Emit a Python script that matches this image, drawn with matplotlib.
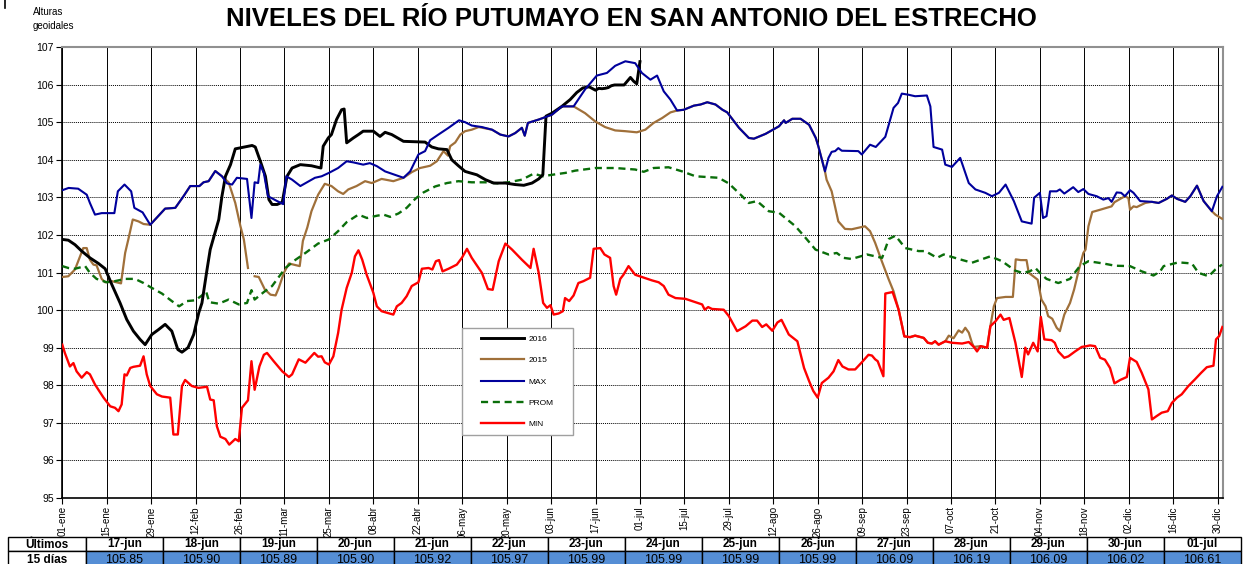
import numpy as np
import matplotlib
matplotlib.use("Agg")
import matplotlib.pyplot as plt
from matplotlib.patches import Rectangle
from matplotlib.lines import Line2D

plt.rcParams['font.family'] = ['Liberation Sans', 'DejaVu Sans']

# ---------------- datos (dia del anio base 0, nivel en m) ----------------
etiquetas_x = ['01-ene', '15-ene', '29-ene', '12-feb', '26-feb', '11-mar', '25-mar',
               '08-abr', '22-abr', '06-may', '20-may', '03-jun', '17-jun', '01-jul',
               '15-jul', '29-jul', '12-ago', '26-ago', '09-sep', '23-sep', '07-oct',
               '21-oct', '04-nov', '18-nov', '02-dic', '16-dic', '30-dic']

maximo = [(0, 103.19), (2, 103.25), (5, 103.23), (7.7, 103.07), (8.7, 102.85), (10.3, 102.54),
          (12.4, 102.58), (16.4, 102.58), (17.5, 103.16), (19.6, 103.34), (21.7, 103.16),
          (22.7, 102.72), (25.3, 102.6), (27.7, 102.27), (32.4, 102.7), (35.6, 102.72),
          (38.2, 103.03), (40.3, 103.3), (43.2, 103.3), (44.5, 103.4), (46.1, 103.43),
          (48.2, 103.7), (50.3, 103.56), (51.9, 103.37), (53.5, 103.34), (55, 103.52),
          (58.2, 103.49), (59.6, 102.45), (60.6, 103.4), (61.7, 103.38), (62.4, 103.87),
          (63.5, 103.65), (64.8, 103.03), (67.7, 102.9), (69.6, 102.82), (70.6, 103.56),
          (72.4, 103.47), (75, 103.3), (79.6, 103.52), (81.7, 103.56), (84, 103.65),
          (86.9, 103.78), (89.6, 103.96), (91.7, 103.93), (94.8, 103.87), (96.9, 103.91),
          (99.1, 103.83), (101.7, 103.69), (104.8, 103.6), (107.5, 103.52), (109.6, 103.69),
          (112.2, 104.14), (114.3, 104.23), (115.9, 104.52), (118.5, 104.67), (121.7, 104.85),
          (125, 105.05), (126.9, 105.0), (129, 104.91), (132.2, 104.87), (135.4, 104.8),
          (138, 104.67), (140.6, 104.62), (142.7, 104.71), (144.8, 104.85), (145.7, 104.64),
          (146.7, 104.98), (150.1, 105.07), (154.3, 105.2), (157.4, 105.42), (161.1, 105.42),
          (164.7, 105.87), (168.4, 106.24), (171.6, 106.31), (174.2, 106.5), (177.4, 106.62),
          (180.5, 106.57), (182.6, 106.31), (185.3, 106.13), (187.4, 106.24), (189.5, 105.82),
          (191.6, 105.6), (193.7, 105.31), (195.8, 105.33), (199, 105.44), (201.1, 105.47),
          (203.2, 105.53), (205.8, 105.47), (208, 105.33), (209.5, 105.26), (213.2, 104.85),
          (216.3, 104.58), (217.9, 104.56), (221.6, 104.69), (225.8, 104.89), (227.4, 105.05),
          (227.9, 104.98), (230, 105.09), (232.6, 105.09), (235.3, 104.93), (237.4, 104.58),
          (238.2, 104.36), (240.3, 103.69), (241.4, 104.05), (242.4, 104.21), (243.5, 104.23),
          (244.5, 104.31), (245.6, 104.24), (250.8, 104.23), (251.9, 104.14), (254.5, 104.4),
          (256.3, 104.34), (259.3, 104.61), (261.9, 105.38), (263.3, 105.51), (264.5, 105.76),
          (266.6, 105.73), (268.7, 105.69), (272.4, 105.71), (273.5, 105.42), (274.5, 104.34),
          (277.2, 104.27), (278.2, 103.87), (280.3, 103.81), (282.9, 104.05), (285.6, 103.38),
          (287.7, 103.21), (290.8, 103.12), (292.9, 103.03), (295.1, 103.12), (297.2, 103.34),
          (299.8, 102.9), (302.3, 102.36), (305.4, 102.3), (306.2, 102.99), (308, 103.12),
          (309, 102.45), (310.1, 102.5), (311.2, 103.16), (313.3, 103.16), (314.3, 103.21),
          (315.7, 103.1), (318.5, 103.27), (320.1, 103.14), (321.7, 103.22), (323.3, 103.09),
          (325.9, 103.03), (328, 102.94), (329.6, 102.98), (330.6, 102.88), (332.2, 103.13),
          (333.6, 103.12), (334.8, 103.03), (336.4, 103.19), (337.5, 103.12), (339.6, 102.9),
          (343.3, 102.88), (345.4, 102.85), (348, 102.96), (349.6, 103.05), (351.2, 102.96),
          (353.8, 102.88), (355.4, 103.03), (357.5, 103.31), (359.6, 102.9), (362.2, 102.63),
          (363.8, 103.03), (365.5, 103.28)]

promedio = [(0, 101.17), (1.9, 101.12), (4, 101.1), (7.2, 101.17), (8.7, 100.99), (10.8, 100.83),
            (14, 100.74), (16.6, 100.77), (19.8, 100.83), (22.9, 100.83), (25.6, 100.72),
            (28.2, 100.59), (31.4, 100.44), (34.5, 100.24), (36.8, 100.1), (39.3, 100.24),
            (41.9, 100.26), (44, 100.39), (45.3, 100.5), (46.3, 100.21), (49.3, 100.17),
            (52.4, 100.28), (55.6, 100.15), (58.2, 100.19), (59.6, 100.53), (60.6, 100.28),
            (63.5, 100.48), (66.1, 100.64), (70.3, 101.12), (73.5, 101.34), (76.6, 101.52),
            (80.6, 101.77), (84, 101.88), (86.9, 102.1), (89.6, 102.34), (93.3, 102.54),
            (96, 102.45), (99.1, 102.51), (101.2, 102.54), (103.3, 102.48), (105.9, 102.57),
            (108.5, 102.72), (111.2, 102.96), (113.8, 103.13), (117.5, 103.29), (121.2, 103.38),
            (124.8, 103.43), (129, 103.4), (133.3, 103.4), (137.5, 103.37), (140.6, 103.4),
            (144.8, 103.47), (148.5, 103.63), (151.4, 103.56), (154.3, 103.6), (158.5, 103.65),
            (161.6, 103.71), (168, 103.78), (174.2, 103.78), (180.5, 103.74), (183.2, 103.68),
            (186.3, 103.78), (191, 103.8), (195.3, 103.69), (199.5, 103.56), (206.8, 103.52),
            (210, 103.37), (214.2, 103.03), (216.3, 102.85), (218.9, 102.9), (222.6, 102.63),
            (225.8, 102.59), (231, 102.23), (234.2, 101.92), (237.3, 101.61), (241.4, 101.48),
            (244, 101.52), (246.1, 101.39), (248.7, 101.36), (253.5, 101.48), (258.3, 101.39),
            (260.4, 101.89), (262.5, 101.98), (265.6, 101.65), (269.8, 101.57), (271.9, 101.57),
            (275.6, 101.39), (277.7, 101.48), (282.4, 101.36), (286.6, 101.26), (292.4, 101.43),
            (296.1, 101.3), (300.2, 101.05), (302.5, 100.99), (304.8, 101.03), (306.6, 101.12),
            (308, 100.99), (310.1, 100.83), (313.8, 100.72), (317.5, 100.83), (320.6, 101.17),
            (323.3, 101.3), (328, 101.24), (331.7, 101.18), (336.4, 101.17), (340.1, 101.03),
            (343.8, 100.92), (345.9, 101.03), (347, 101.17), (351.7, 101.27), (355.9, 101.24),
            (358, 100.99), (361.2, 100.9), (363.3, 101.08), (365.4, 101.21)]

minimo = [(0, 99.08), (0.8, 98.86), (2.4, 98.5), (3.5, 98.59), (4.5, 98.37), (6.1, 98.2),
          (7.7, 98.35), (8.7, 98.29), (10.3, 98.02), (13, 97.67), (15.1, 97.44), (16.6, 97.4),
          (17.7, 97.31), (18.7, 97.49), (19.6, 98.29), (20.3, 98.26), (21.4, 98.46),
          (22.4, 98.49), (24.5, 98.52), (25.6, 98.77), (26.6, 98.29), (27.7, 97.98),
          (29.8, 97.76), (31.4, 97.7), (34, 97.67), (35, 96.69), (36.4, 96.69), (37.7, 97.98),
          (38.7, 98.14), (40.8, 97.98), (42.9, 97.93), (45.6, 97.96), (46.6, 97.62),
          (47.7, 97.6), (48.7, 96.91), (49.8, 96.63), (51.4, 96.57), (52.6, 96.42),
          (54.5, 96.57), (55.6, 96.51), (56.6, 97.4), (58.5, 97.6), (59.6, 98.64),
          (60.6, 97.88), (62.1, 98.5), (63.5, 98.81), (64.5, 98.86), (66.6, 98.64),
          (69.3, 98.37), (71.4, 98.22), (72.4, 98.29), (74.5, 98.69), (76.6, 98.6),
          (79.4, 98.86), (80.6, 98.76), (81.7, 98.77), (82.7, 98.61), (84, 98.55),
          (85.4, 98.77), (86.9, 99.39), (88, 100.01), (89.6, 100.59), (91.2, 100.99),
          (92.2, 101.43), (93.3, 101.59), (94.5, 101.34), (95.9, 100.94), (98, 100.46),
          (99.1, 100.1), (100.6, 99.97), (104.3, 99.88), (105.4, 100.1), (106.9, 100.19),
          (108.5, 100.37), (110.1, 100.64), (112.2, 100.74), (113.3, 101.1), (115.4, 101.12),
          (116.6, 101.08), (117.7, 101.3), (118.7, 101.33), (119.8, 101.03), (121.7, 101.1),
          (124.3, 101.21), (125.9, 101.39), (127.5, 101.63), (129, 101.39), (132.2, 100.99),
          (134.1, 100.56), (135.6, 100.54), (137.5, 101.3), (139.6, 101.77), (141.7, 101.61),
          (144.8, 101.34), (147.5, 101.12), (148.5, 101.63), (150.1, 100.99), (151.5, 100.19),
          (152.7, 100.06), (153.8, 100.13), (154.8, 99.88), (156.4, 99.91), (157.7, 99.97),
          (158.4, 100.32), (159.7, 100.24), (161.1, 100.39), (162.6, 100.72), (164.2, 100.77),
          (166.3, 100.86), (167.4, 101.63), (169.5, 101.65), (170.8, 101.48), (172.6, 101.39),
          (173.7, 100.64), (174.5, 100.41), (175.8, 100.83), (176.8, 100.94), (178.4, 101.17),
          (180.5, 100.94), (182.6, 100.88), (185.8, 100.79), (187.9, 100.74), (189.5, 100.64),
          (191, 100.41), (193.2, 100.32), (196.3, 100.3), (198.4, 100.24), (201.6, 100.15),
          (202.4, 100.01), (203.5, 100.08), (204.7, 100.03), (208.4, 100.01), (210, 99.84),
          (212.6, 99.44), (215.3, 99.57), (217.4, 99.72), (218.9, 99.72), (220.5, 99.55),
          (221.8, 99.62), (223.7, 99.45), (225.3, 99.67), (226.6, 99.74), (228.9, 99.35),
          (231.6, 99.17), (233.7, 98.46), (235.3, 98.11), (236.6, 97.85), (238, 97.67),
          (239.3, 98.06), (241.4, 98.2), (243, 98.37), (244.5, 98.67), (245.8, 98.5),
          (247.7, 98.42), (249.8, 98.42), (251.9, 98.61), (254, 98.81), (255.1, 98.79),
          (256.1, 98.69), (256.9, 98.64), (258.7, 98.24), (259.3, 100.44), (261.6, 100.48),
          (263.5, 100.01), (265.3, 99.3), (267.1, 99.28), (268.7, 99.32), (271.4, 99.26),
          (272.7, 99.13), (274, 99.11), (275, 99.17), (276.1, 99.08), (278.2, 99.17),
          (280.3, 99.13), (283.5, 99.11), (285.6, 99.15), (287.2, 99.02), (288.2, 98.9),
          (289.3, 99.04), (291.4, 99.0), (292.4, 99.57), (294, 99.7), (295.6, 99.88),
          (296.6, 99.74), (298.4, 99.79), (300.3, 99.13), (302.3, 98.22), (303.4, 99.0),
          (304.3, 98.82), (305.9, 99.13), (307.3, 98.9), (308.3, 99.82), (309.4, 99.22),
          (311.7, 99.2), (312.7, 99.13), (313.8, 98.9), (315.7, 98.73), (317, 98.77),
          (319.1, 98.9), (321.2, 99.02), (322.7, 99.04), (323.8, 99.06), (325.4, 99.04),
          (327, 98.73), (328.5, 98.68), (330.1, 98.46), (331.5, 98.05), (333.3, 98.14),
          (335.4, 98.22), (336.4, 98.73), (338.5, 98.62), (340.1, 98.33), (342.2, 97.89),
          (343.3, 97.09), (344.8, 97.18), (346.4, 97.27), (348.3, 97.31), (349.6, 97.53),
          (351.2, 97.67), (352.7, 97.76), (354.8, 97.98), (356.9, 98.16), (358.8, 98.33),
          (360.6, 98.48), (362.7, 98.52), (363.5, 99.22), (364.5, 99.31), (365.5, 99.55)]

anio_2015 = [(0, 100.88), (1.9, 100.9), (4, 101.08), (5.6, 101.43), (6.6, 101.65), (7.7, 101.65),
             (8.7, 101.34), (9.8, 101.21), (10.8, 101.19), (12.4, 100.83), (13.5, 100.74),
             (15.6, 100.77), (18.5, 100.71), (19.8, 101.52), (20.8, 101.88), (22.2, 102.41),
             (24, 102.36), (25.6, 102.29), (27.7, 102.27), (32.4, 102.7), (35.6, 102.72),
             (38.2, 103.03), (40.3, 103.3), (43.2, 103.3), (44.5, 103.4), (46.1, 103.43),
             (48.2, 103.7), (50.3, 103.56), (52.4, 103.4), (54.5, 102.85), (56.1, 102.24),
             (57.2, 101.88), (58.5, 101.12), (59.5, np.nan), (60.6, 100.9), (61.9, 100.88),
             (63.8, 100.55), (65.6, 100.41), (67.2, 100.39), (68.2, 100.59), (69.8, 100.99),
             (71.4, 101.24), (72.9, 101.21), (74.8, 101.17), (75.8, 101.84), (77.2, 102.2),
             (78.5, 102.63), (80.6, 103.07), (82.7, 103.36), (84.8, 103.3), (86.9, 103.16),
             (88.5, 103.09), (90.1, 103.21), (92.7, 103.3), (95.4, 103.43), (97.5, 103.38),
             (100.6, 103.49), (104.3, 103.43), (107.5, 103.52), (110.1, 103.67), (112.7, 103.78),
             (115.9, 103.84), (118, 103.96), (120.1, 104.23), (121.5, 104.11), (122.2, 104.36),
             (123.8, 104.46), (125.4, 104.67), (126.9, 104.76), (129, 104.8), (131.2, 104.87),
             (135.4, 104.8), (138, 104.67), (140.6, 104.62), (142.7, 104.71), (144.8, 104.85),
             (145.7, 104.64), (146.7, 104.98), (150.1, 105.07), (154.3, 105.2), (157.4, 105.42),
             (161.1, 105.42), (164.7, 105.24), (167.9, 105.02), (171, 104.87), (174.2, 104.78),
             (177.4, 104.76), (181, 104.73), (183.7, 104.8), (186.3, 104.98), (189, 105.11),
             (191.6, 105.26), (193.7, 105.31), (195.8, 105.33), (199, 105.44), (201.1, 105.47),
             (203.2, 105.53), (205.8, 105.47), (208, 105.33), (209.5, 105.26), (213.2, 104.85),
             (216.3, 104.58), (217.9, 104.56), (221.6, 104.69), (225.8, 104.89), (227.4, 105.05),
             (227.9, 104.98), (230, 105.09), (232.6, 105.09), (235.3, 104.93), (237.4, 104.58),
             (238.2, 104.36), (240.3, 103.69), (240.8, 103.47), (242.4, 103.16), (243.7, 102.67),
             (244.5, 102.36), (246.6, 102.16), (248.7, 102.15), (250.8, 102.19), (252.9, 102.23),
             (254.5, 102.1), (256.1, 101.79), (258.2, 101.3), (260.4, 100.81), (261.9, 100.5),
             (263.5, 100.01), (265.3, 99.3), (267.1, 99.28), (268.7, 99.32), (271.4, 99.26),
             (272.7, 99.13), (274, 99.11), (275, 99.17), (276.1, 99.08), (278.2, 99.17),
             (279.3, 99.32), (280.8, 99.25), (282.4, 99.46), (283.5, 99.4), (284.5, 99.53),
             (285.6, 99.4), (286.6, 99.13), (287.2, 99.02), (289.3, 99.04), (291.4, 99.0),
             (292.4, 99.57), (293.5, 100.1), (294.5, 100.32), (297.2, 100.35), (299.5, 100.35),
             (300.4, 101.35), (302, 101.33), (303.8, 101.33), (304.5, 100.99), (305.9, 100.9),
             (307.3, 100.81), (308.5, 100.28), (309.8, 100.1), (310.6, 99.84), (311.9, 99.77),
             (313.3, 99.53), (314.3, 99.44), (315.7, 99.88), (317.5, 100.19), (318.8, 100.55),
             (320.3, 101.08), (321.7, 101.52), (322.4, 101.61), (323.3, 102.23), (324.5, 102.61),
             (327, 102.67), (330.6, 102.76), (331.5, 102.87), (334.8, 103.03), (335.9, 102.98),
             (336.4, 102.67), (337.5, 102.76), (338.5, 102.74), (341.2, 102.85), (343.3, 102.88),
             (345.4, 102.85), (348, 102.96), (349.6, 103.05), (351.2, 102.96), (353.8, 102.88),
             (355.4, 103.03), (357.5, 103.31), (359.6, 102.9), (362.2, 102.63), (363.3, 102.54),
             (365.4, 102.43)]

anio_2016 = [(0, 101.88), (1.9, 101.86), (4, 101.74), (6.1, 101.57), (8.7, 101.39), (11.4, 101.24),
             (13.5, 101.1), (15.6, 100.68), (18.2, 100.19), (20.3, 99.75), (22.4, 99.44),
             (24.5, 99.22), (26.1, 99.08), (28.2, 99.35), (30.3, 99.48), (32.4, 99.62),
             (34.5, 99.44), (36.4, 98.95), (37.7, 98.88), (39.6, 99.0), (41.4, 99.35),
             (43, 99.93), (44, 100.19), (45.6, 101.08), (46.6, 101.61), (49.3, 102.41),
             (50.3, 103.03), (51.4, 103.56), (53, 103.87), (54.5, 104.29), (59.8, 104.38),
             (60.8, 104.34), (62.4, 103.96), (64, 103.56), (65.1, 102.94), (66.1, 102.81),
             (67.7, 102.81), (69.3, 102.87), (70.8, 103.56), (72.4, 103.78), (75, 103.87),
             (78.5, 103.84), (81.5, 103.78), (82.2, 104.36), (83.8, 104.58), (84.8, 104.67),
             (86.4, 105.07), (88, 105.33), (88.8, 105.35), (89.6, 104.45), (91.7, 104.58),
             (93.3, 104.67), (94.8, 104.76), (98, 104.76), (100.1, 104.62), (101.7, 104.73),
             (103.8, 104.67), (107.5, 104.49), (114.3, 104.47), (116.4, 104.34), (118.5, 104.29),
             (121.2, 104.27), (122.7, 104.0), (124.8, 103.84), (126.9, 103.69), (128.5, 103.65),
             (130.6, 103.6), (133.3, 103.47), (135.9, 103.38), (139.6, 103.38), (142.7, 103.34),
             (145.4, 103.32), (148, 103.38), (150.1, 103.49), (151.4, 103.6), (152.4, 105.16),
             (154.3, 105.24), (157.4, 105.42), (160, 105.6), (162.1, 105.79), (164, 105.91),
             (166, 105.94)]

# ultimos 15 dias (tabla)
ultimos_fechas = ['17-jun', '18-jun', '19-jun', '20-jun', '21-jun', '22-jun', '23-jun', '24-jun',
                  '25-jun', '26-jun', '27-jun', '28-jun', '29-jun', '30-jun', '01-jul']
ultimos_niveles = [105.85, 105.90, 105.89, 105.90, 105.92, 105.97, 105.99, 105.99,
                   105.99, 105.99, 106.09, 106.19, 106.09, 106.02, 106.61]
ultimos_dias = list(range(168, 183))

serie_2016 = anio_2016 + list(zip(ultimos_dias, ultimos_niveles))

# ---------------- figura ----------------
fig = plt.figure(figsize=(12.43, 5.64), dpi=100)
ax = fig.add_axes([62.3 / 1243, 1 - 498 / 564, (1223 - 62.3) / 1243, 451 / 564])


def trazar(serie, **kw):
    d, v = zip(*serie)
    ax.plot(d, v, **kw)


trazar(serie_2016, color='black', lw=2.1, label='2016', zorder=4)
trazar(anio_2015, color='#a0703a', lw=1.6, label='2015', zorder=3)
trazar(maximo, color='#00009c', lw=1.5, label='MAX', zorder=5)
trazar(promedio, color='#0a6e0a', lw=1.7, ls=(0, (3, 2)), label='PROM', zorder=3)
trazar(minimo, color='#ff0000', lw=1.7, label='MIN', zorder=3)

ax.set_xlim(0, 365.7)
ax.set_ylim(95, 107)
ax.set_yticks(np.arange(95, 108, 1))
ax.set_yticklabels([str(v) for v in range(95, 108)], fontsize=7.5)
ax.set_xticks(np.arange(0, 365, 14))
ax.set_xticklabels(etiquetas_x, rotation=90, fontsize=7)
ax.tick_params(axis='both', direction='out', length=4, width=0.8, pad=2)

ax.grid(axis='x', color='black', lw=0.7, ls='-')
ax.grid(axis='y', color='black', lw=0.7, ls=(0, (1, 1)))
ax.set_axisbelow(True)
for s in ['top', 'right']:
    ax.spines[s].set_color('#909090')
    ax.spines[s].set_linewidth(1.5)
for s in ['left', 'bottom']:
    ax.spines[s].set_color('black')
    ax.spines[s].set_linewidth(1.2)

# recuadro de la leyenda
ax.add_patch(Rectangle((0.344, 0.140), 0.096, 0.237, transform=ax.transAxes,
                       fc='white', ec='#a0a0a0', lw=1.0, zorder=6))
leg = ax.legend(loc='center', bbox_to_anchor=(0.392, 0.258), fontsize=6,
                labelspacing=1.6, handlelength=5.2, borderpad=0.5, handletextpad=0.5,
                frameon=False)
leg.set_zorder(7)

fig.text(0.508, 0.966, 'NIVELES DEL RÍO PUTUMAYO EN SAN ANTONIO DEL ESTRECHO',
         ha='center', va='center', fontsize=18.5, fontweight='bold')
fig.text(33 / 1243, 1 - 12 / 564, 'Alturas', fontsize=7, va='center', ha='left')
fig.text(33 / 1243, 1 - 26 / 564, 'geoidales', fontsize=7, va='center', ha='left')
fig.add_artist(Line2D([5 / 1243, 5 / 1243], [1.0, 1 - 8 / 564], color='black', lw=1.2))

# ---------------- tabla inferior ----------------
tab = fig.add_axes([0, 0, 1, 1], facecolor='none')
tab.set_xlim(0, 1243)
tab.set_ylim(564, 0)
tab.axis('off')

y0, y1, y2 = 537.3, 550.7, 566
x_ini, ancho0, ancho = 8.3, 77.7, 77.0
tab.add_patch(Rectangle((x_ini, y0), ancho0, y1 - y0, fc='white', ec='black', lw=1.0))
tab.add_patch(Rectangle((x_ini, y1), ancho0, y2 - y1, fc='white', ec='black', lw=1.0))
tab.text(x_ini + ancho0 / 2, (y0 + y1) / 2 + 0.5, 'Últimos', ha='center', va='center',
         fontsize=8.5, fontweight='bold')
tab.text(x_ini + ancho0 / 2, y1 + 9.5, '15 días', ha='center', va='center',
         fontsize=8.5, fontweight='bold')
for i, (f, n) in enumerate(zip(ultimos_fechas, ultimos_niveles)):
    x = x_ini + ancho0 + i * ancho
    tab.add_patch(Rectangle((x, y0), ancho, y1 - y0, fc='white', ec='black', lw=1.0))
    tab.add_patch(Rectangle((x, y1), ancho, y2 - y1, fc='#558ed5', ec='black', lw=1.0))
    tab.text(x + ancho / 2, (y0 + y1) / 2 + 0.5, f, ha='center', va='center',
             fontsize=8.5, fontweight='bold')
    tab.text(x + ancho / 2, y1 + 9.5, f'{n:.2f}', ha='center', va='center', fontsize=9)

fig.savefig('out.png', dpi=100)
